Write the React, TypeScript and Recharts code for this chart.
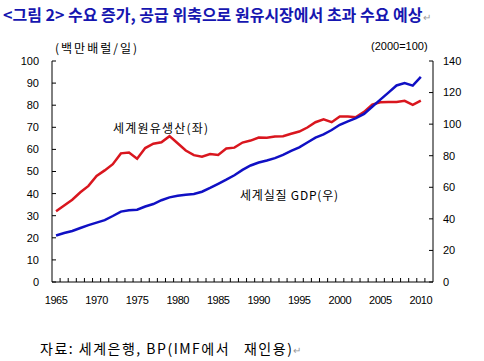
import { LineChart, Line, XAxis, YAxis } from 'recharts';

// 연도 (1965~2010)
const years = [
  1965, 1966, 1967, 1968, 1969, 1970, 1971, 1972, 1973, 1974,
  1975, 1976, 1977, 1978, 1979, 1980, 1981, 1982, 1983, 1984,
  1985, 1986, 1987, 1988, 1989, 1990, 1991, 1992, 1993, 1994,
  1995, 1996, 1997, 1998, 1999, 2000, 2001, 2002, 2003, 2004,
  2005, 2006, 2007, 2008, 2009, 2010,
];

// 세계원유생산 (백만배럴/일, 좌축)
const oilOutput = [
  32.0, 34.6, 37.2, 40.6, 43.5, 48.0, 50.5, 53.3, 58.2, 58.6,
  55.8, 60.6, 62.6, 63.2, 66.0, 62.8, 59.5, 57.4, 56.7, 57.9,
  57.5, 60.4, 60.8, 63.1, 64.0, 65.4, 65.3, 65.8, 66.0, 67.1,
  68.1, 69.9, 72.3, 73.6, 72.3, 74.9, 74.9, 74.6, 77.0, 80.3,
  81.3, 81.5, 81.5, 82.0, 80.2, 82.1,
];

// 세계실질 GDP (2000=100, 우축)
const realGdp = [
  29.5, 31.0, 32.3, 34.2, 36.0, 37.6, 39.2, 41.8, 44.6, 45.4,
  45.8, 47.8, 49.4, 51.8, 53.6, 54.6, 55.3, 55.7, 57.2, 59.6,
  62.2, 64.8, 67.6, 71.0, 73.8, 75.7, 77.0, 78.5, 80.5, 83.0,
  85.3, 88.4, 91.5, 93.5, 96.3, 99.6, 101.8, 103.8, 106.5, 111.0,
  115.5, 120.0, 124.5, 126.0, 124.4, 130.0,
];

const xLabels = [1965, 1970, 1975, 1980, 1985, 1990, 1995, 2000, 2005, 2010];
const leftTicks = [0, 10, 20, 30, 40, 50, 60, 70, 80, 90, 100];
const rightTicks = [0, 20, 40, 60, 80, 100, 120, 140];

const data = years.map((year, i) => ({ year, oil: oilOutput[i], gdp: realGdp[i] }));

// 눈금선은 연도 경계(카테고리 사이)에, 라벨은 연도 중앙에
const xTicks = [...xLabels, ...years.map((y) => y + 0.5)].sort((a, b) => a - b);

const tickFont = { fontFamily: '"Liberation Sans", Arial, sans-serif', fontSize: 11, fill: '#000' };
const korean = '"Noto Sans CJK KR", "Noto Sans", sans-serif';

function XTick(props: any) {
  const { x, y, payload } = props;
  const v = payload.value;
  if (Number.isInteger(v)) {
    return (
      <text x={x} y={y + 22} textAnchor="middle" {...tickFont} letterSpacing={-0.5}>
        {v}
      </text>
    );
  }
  return <line x1={x} x2={x} y1={y} y2={y - 4} stroke="#000" strokeWidth={1} />;
}

export default function App() {
  return (
    <div
      style={{
        position: 'absolute',
        left: 0,
        top: 0,
        width: 484,
        height: 361,
        background: '#fff',
        fontFamily: korean,
      }}
    >
      <div
        style={{
          position: 'absolute',
          left: 3,
          top: 5,
          fontSize: 16,
          lineHeight: '18px',
          fontWeight: 700,
          color: '#1616b0',
          whiteSpace: 'nowrap',
        }}
      >
        &lt;그림 2&gt; 수요 증가, 공급 위축으로 원유시장에서 초과 수요 예상
        <span style={{ fontSize: 10, fontWeight: 400, color: '#999' }}>↵</span>
      </div>

      <div style={{ position: 'absolute', left: 55, top: 39, fontSize: 12, letterSpacing: 2, whiteSpace: 'nowrap' }}>
        (백만배럴/일)
      </div>
      <div
        style={{
          position: 'absolute',
          left: 371,
          top: 40,
          fontSize: 11,
          fontFamily: '"Liberation Sans", Arial, sans-serif',
          whiteSpace: 'nowrap',
        }}
      >
        (2000=100)
      </div>

      <LineChart
        width={484}
        height={361}
        data={data}
        margin={{ top: 61, right: 11, bottom: 49, left: 0 }}
        style={{ position: 'absolute', left: 0, top: 0 }}
      >
        <XAxis
          dataKey="year"
          type="number"
          domain={[1964.5, 2011.5]}
          ticks={xTicks}
          interval={0}
          tick={<XTick />}
          tickLine={false}
          tickSize={0}
          tickMargin={0}
          height={30}
          axisLine={{ stroke: '#000', strokeWidth: 1 }}
        />
        <YAxis
          yAxisId="left"
          orientation="left"
          domain={[0, 100]}
          ticks={leftTicks}
          interval={0}
          width={52}
          tickSize={-4}
          tickMargin={17}
          tick={tickFont}
          tickLine={{ stroke: '#000' }}
          axisLine={{ stroke: '#000', strokeWidth: 1 }}
        />
        <YAxis
          yAxisId="right"
          orientation="right"
          domain={[0, 140]}
          ticks={rightTicks}
          interval={0}
          width={40}
          tickSize={-4}
          tickMargin={14}
          tick={{ ...tickFont, textAnchor: 'start' }}
          tickLine={{ stroke: '#000' }}
          axisLine={{ stroke: '#000', strokeWidth: 1 }}
        />
        <Line
          yAxisId="left"
          dataKey="oil"
          type="linear"
          stroke="#d9161e"
          strokeWidth={2.5}
          dot={false}
          isAnimationActive={false}
        />
        <Line
          yAxisId="right"
          dataKey="gdp"
          type="linear"
          stroke="#1010c4"
          strokeWidth={2.5}
          dot={false}
          isAnimationActive={false}
        />
      </LineChart>

      <div style={{ position: 'absolute', left: 113, top: 119, fontSize: 12, letterSpacing: 1.2, whiteSpace: 'nowrap' }}>
        세계원유생산(좌)
      </div>
      <div style={{ position: 'absolute', left: 240, top: 186, fontSize: 12, letterSpacing: 0.8, whiteSpace: 'nowrap' }}>
        세계실질 GDP(우)
      </div>

      <div style={{ position: 'absolute', left: 40, top: 338, fontSize: 14, letterSpacing: 1.5, whiteSpace: 'nowrap' }}>
        자료: 세계은행, BP(IMF에서&nbsp;&nbsp;&nbsp;재인용)
        <span style={{ fontSize: 10, color: '#999', letterSpacing: 0 }}>↵</span>
      </div>
    </div>
  );
}
